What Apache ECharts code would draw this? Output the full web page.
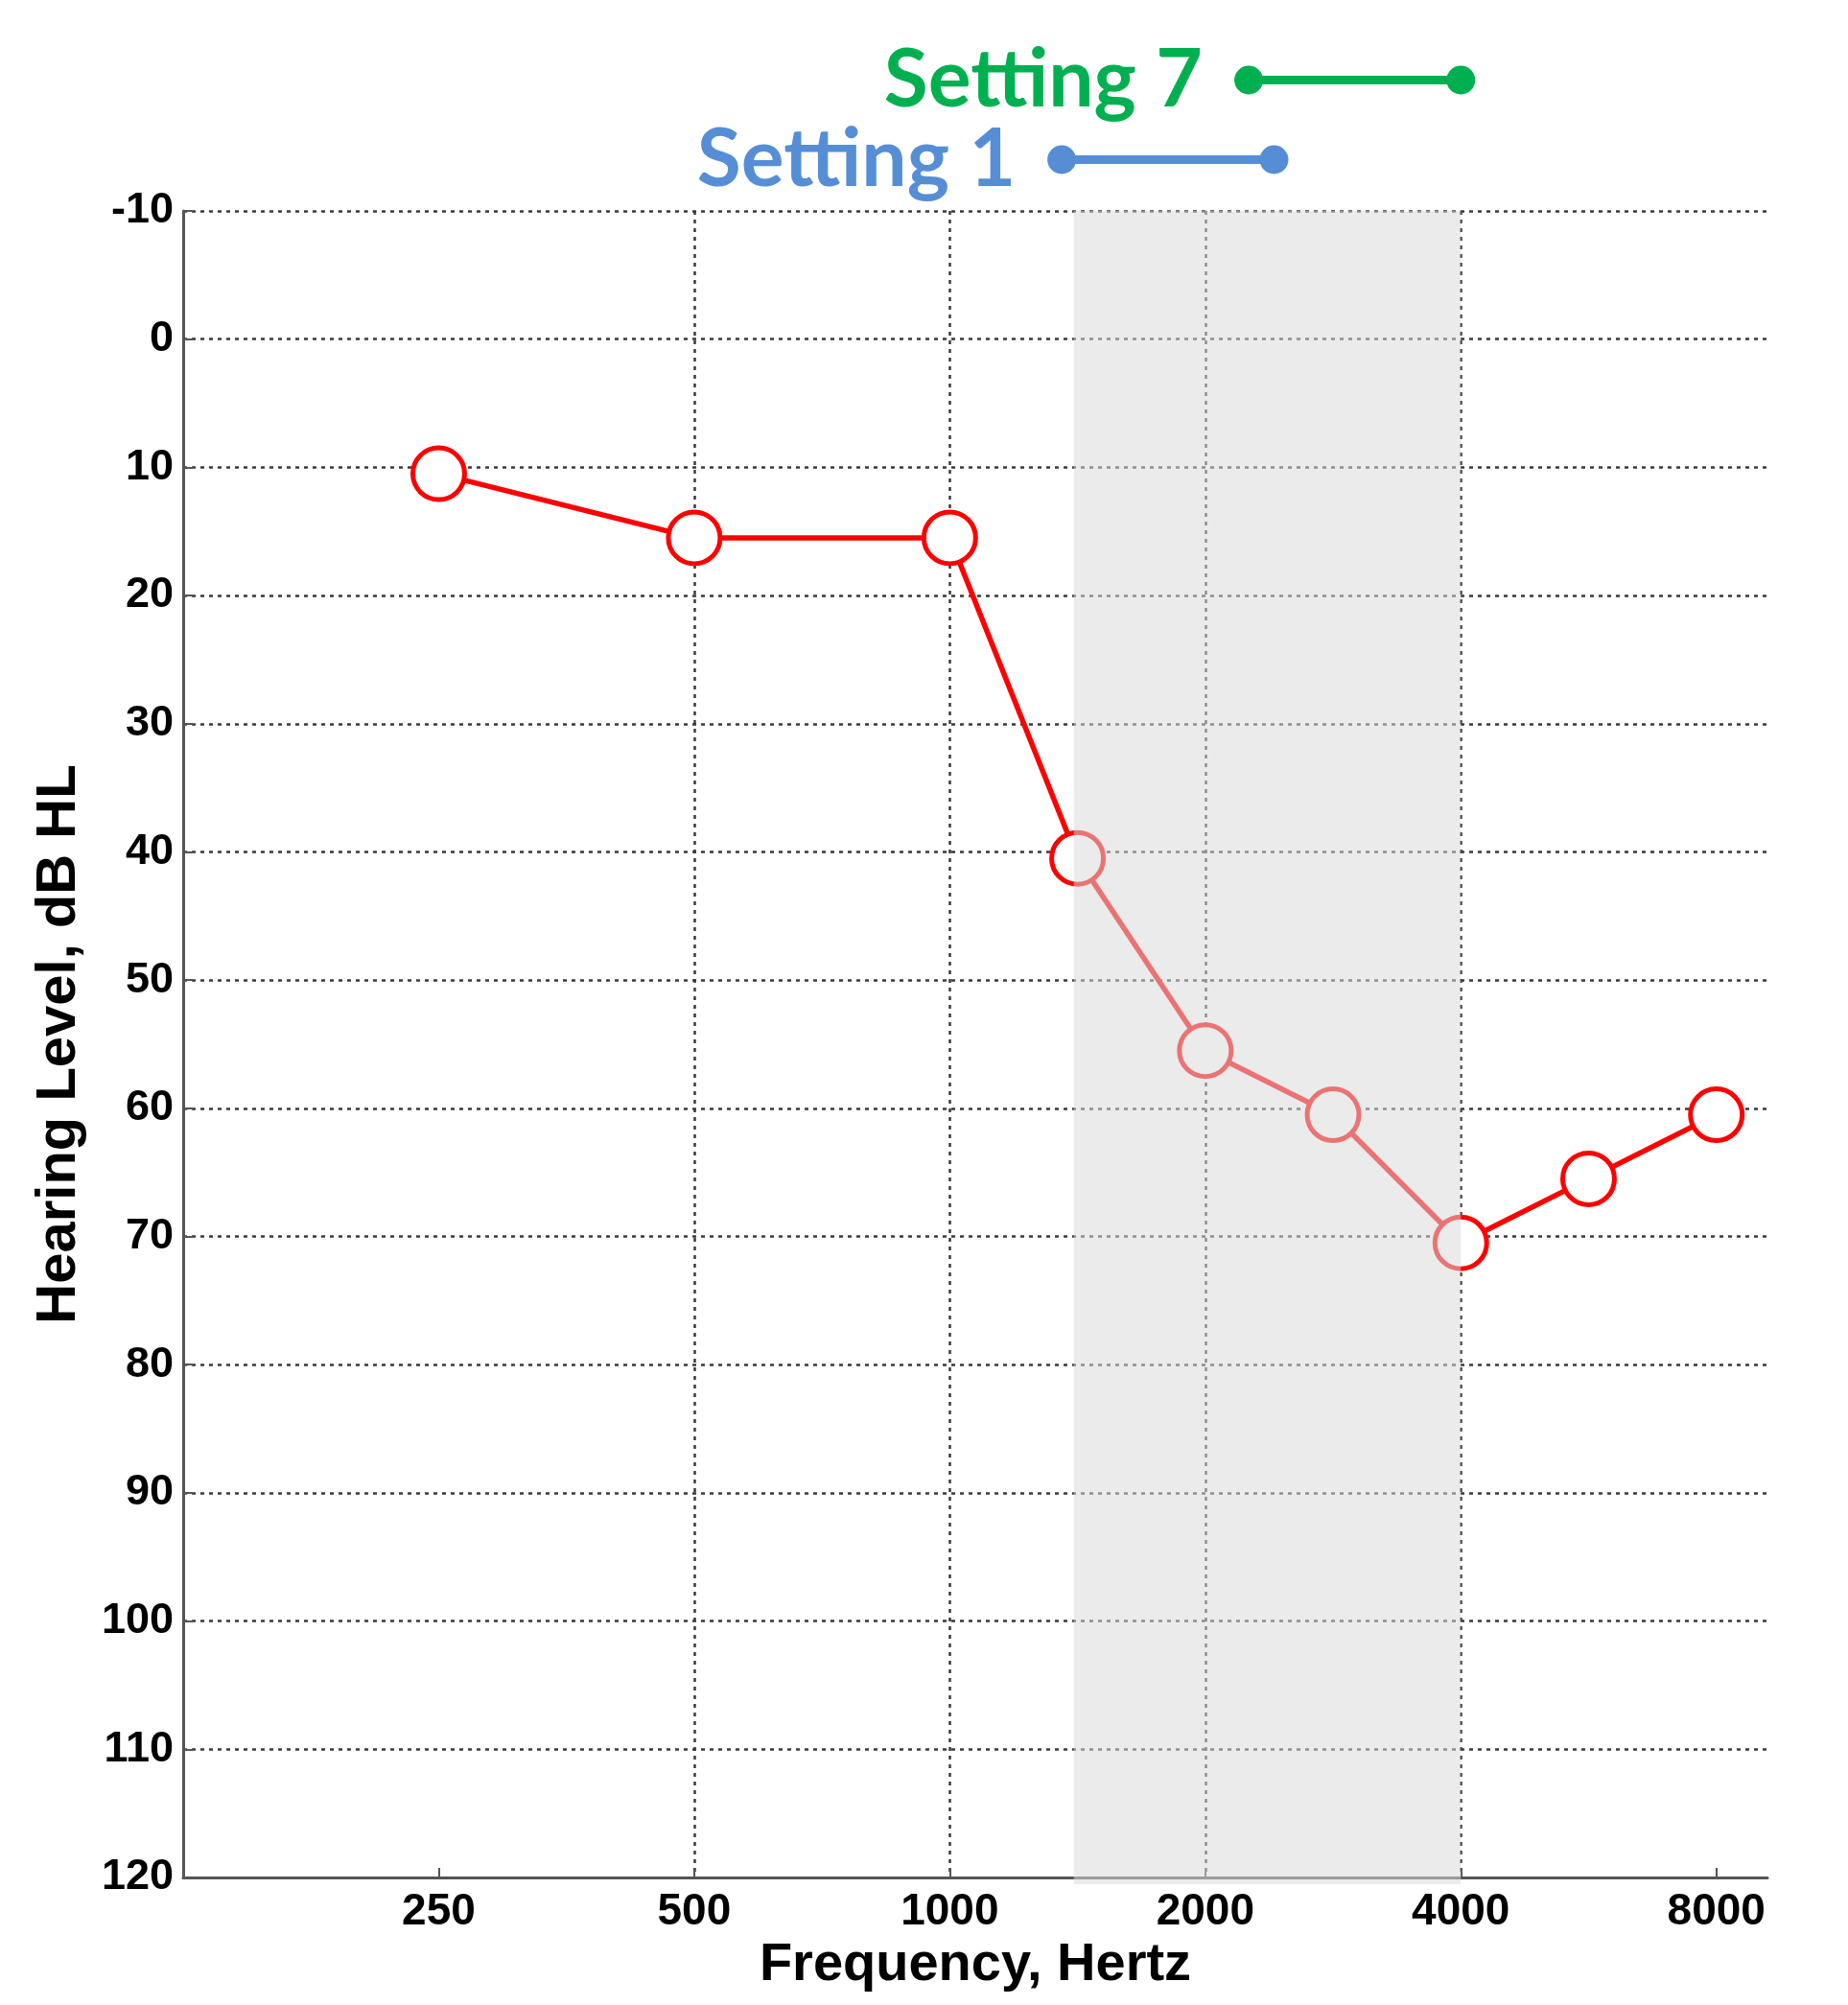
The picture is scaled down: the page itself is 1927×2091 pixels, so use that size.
<!DOCTYPE html>
<html>
<head>
<meta charset="utf-8">
<script src="https://cdn.jsdelivr.net/npm/echarts@6/dist/echarts.min.js"></script>
<style>
  html, body { margin: 0; padding: 0; background: #fff; }
  #chart { width: 1927px; height: 2091px; }
</style>
</head>
<body>
<div id="chart"></div>
<script>
// audiogram data
const freqs = [250, 500, 1000, 1500, 2000, 3000, 4000, 6000, 8000]
const hearingLevel = [10.5, 15.5, 15.5, 40.5, 55.5, 60.5, 70.5, 65.5, 60.5]
const xTickLabels = ['250', '500', '1000', '2000', '4000', '8000']
const yTicks = [-10, 120]

// shaded band (Hz)
const bandRange = [1400, 4000]

// setting ranges drawn above the plot (Hz)
const settingNames = ['Setting 7', 'Setting 1']
const settingRanges = [[2250, 4000], [1355, 2410]]
const settingColors = ['#00b050', '#568ed6']

// x is in octaves above 250 Hz; mid-octave frequencies (1500, 3000...) sit halfway
const oct = f => {
  const o = Math.log2(f / 250)
  const frac = o - Math.floor(o)
  return Math.abs(frac - Math.log2(1.5)) < 1e-9 ? Math.floor(o) + 0.5 : o
}

const chart = echarts.init(document.getElementById('chart'))

const axisColor = '#555'
const gridColor = '#3a3a3a'
const font = 'Liberation Sans'

const option = {
  animation: false,
  backgroundColor: '#fff',
  grid: [
    { left: 191, top: 220, width: 1652, height: 1738 },
    { left: 191, top: 42, width: 1652, height: 166 }
  ],
  xAxis: [
    {
      type: 'value',
      gridIndex: 0,
      min: -1,
      max: 5.2,
      interval: 1,
      name: 'Frequency, Hertz',
      nameLocation: 'middle',
      nameGap: 64,
      nameTextStyle: { fontFamily: font, fontWeight: 'bold', fontSize: 56, color: '#000' },
      axisLine: { show: true, onZero: false, lineStyle: { color: axisColor, width: 3 } },
      axisTick: { show: true, inside: true, length: 10, customValues: [0, 1, 2, 3, 4, 5], lineStyle: { color: axisColor, width: 2 } },
      axisLabel: {
        margin: 13,
        fontFamily: font,
        fontWeight: 'bold',
        fontSize: 46,
        color: '#000',
        customValues: [0, 1, 2, 3, 4, 5],
        formatter: v => xTickLabels[Math.round(v)] || ''
      },
      splitLine: {
        show: true,
        showMinLine: false,
        showMaxLine: false,
        lineStyle: { color: gridColor, width: 2.5, type: [4, 5] }
      }
    },
    { type: 'value', gridIndex: 1, min: -1, max: 5.2, show: false }
  ],
  yAxis: [
    {
      type: 'value',
      gridIndex: 0,
      inverse: true,
      min: yTicks[0],
      max: yTicks[1],
      interval: 10,
      name: 'Hearing Level, dB HL',
      nameLocation: 'middle',
      nameRotate: 90,
      nameGap: 100,
      nameTextStyle: { fontFamily: font, fontWeight: 'bold', fontSize: 58, color: '#000' },
      axisLine: { show: true, onZero: false, lineStyle: { color: axisColor, width: 3 } },
      axisTick: { show: true, inside: true, length: 10, lineStyle: { color: axisColor, width: 2 } },
      axisLabel: { margin: 10, fontFamily: font, fontWeight: 'bold', fontSize: 45, color: '#000' },
      splitLine: { show: true, lineStyle: { color: gridColor, width: 2.5, type: [4, 5] } }
    },
    { type: 'category', gridIndex: 1, inverse: true, data: settingNames, show: false }
  ],
  series: [
    {
      name: 'Hearing level',
      type: 'line',
      xAxisIndex: 0,
      yAxisIndex: 0,
      data: freqs.map((f, i) => [oct(f), hearingLevel[i]]),
      symbol: 'circle',
      symbolSize: 54,
      lineStyle: { color: '#ff0000', width: 5.5 },
      itemStyle: { color: '#fff', borderColor: '#ff0000', borderWidth: 5 },
      z: 3
    },
    {
      name: 'band',
      type: 'custom',
      xAxisIndex: 0,
      yAxisIndex: 0,
      z: 10,
      silent: true,
      encode: { x: [0, 1], y: [2, 3] },
      data: [[oct(bandRange[0]), oct(bandRange[1]), yTicks[0], yTicks[1]]],
      renderItem: (params, api) => {
        const p0 = api.coord([api.value(0), api.value(2)])
        const p1 = api.coord([api.value(1), api.value(3)])
        return {
          type: 'rect',
          shape: { x: p0[0], y: p0[1], width: p1[0] - p0[0], height: p1[1] - p0[1] + 7 },
          style: { fill: 'rgba(217,217,217,0.53)' }
        }
      }
    },
    ...settingNames.map((name, i) => ({
      name,
      type: 'line',
      xAxisIndex: 1,
      yAxisIndex: 1,
      symbol: 'circle',
      symbolSize: 30,
      lineStyle: { color: settingColors[i], width: 9 },
      itemStyle: { color: settingColors[i] },
      data: [
        {
          value: [oct(settingRanges[i][0]), name],
          label: {
            show: true,
            position: 'left',
            distance: 33,
            formatter: name,
            fontFamily: 'Lato',
            fontWeight: 'bold',
            fontSize: 84,
            color: settingColors[i]
          }
        },
        { value: [oct(settingRanges[i][1]), name] }
      ]
    }))
  ]
}

chart.setOption(option)
</script>
</body>
</html>
